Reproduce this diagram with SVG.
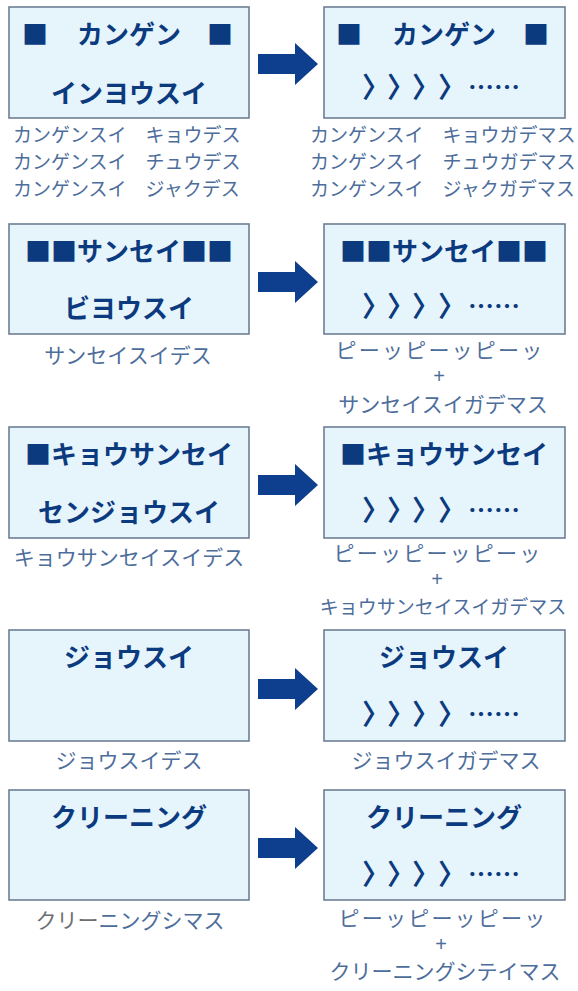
<svg xmlns="http://www.w3.org/2000/svg" width="578" height="991" viewBox="0 0 578 991">
<style>
.box{fill:#e6f4fc;stroke:#6d7f94;stroke-width:1.6}
.h{font-family:"Noto Sans CJK JP","Noto Sans CJK SC",sans-serif;font-weight:700;font-size:26px;fill:#0c3a7e;text-anchor:middle}
.hs{font-family:"Noto Sans CJK JP","Noto Sans CJK SC",sans-serif;font-weight:700;font-size:26px;fill:#0c3a7e}
.ch{font-family:"Noto Sans CJK JP","Noto Sans CJK SC",sans-serif;font-weight:700;font-size:28px;fill:#0c3a7e}
.c{font-family:"Noto Sans CJK JP","Noto Sans CJK SC",sans-serif;font-weight:400;font-size:21px;fill:#4d6d9b;text-anchor:middle}
.c1{font-family:"Noto Sans CJK JP","Noto Sans CJK SC",sans-serif;font-weight:400;font-size:19px;fill:#4d6d9b}
.plus{font-family:"Liberation Sans",Arial,sans-serif;font-weight:400;font-size:20px;fill:#4d6d9b;text-anchor:middle}
.p{letter-spacing:2.2px}
.arr{fill:#0e3f8f}
</style>
<defs>
<g id="chev">
<text class="ch" x="0" y="0">〉</text>
<text class="ch" x="25" y="0">〉</text>
<text class="ch" x="50" y="0">〉</text>
<text class="ch" x="76" y="0">〉</text>
<text class="hs" x="106" y="-1">……</text>
</g>
</defs>
<rect width="578" height="991" fill="#ffffff"/>

<g id="connectors">
<polygon class="arr" points="258,54 295,54 295,43 318,64 295,85 295,74 258,74"/>
<polygon class="arr" points="258,272 295,272 295,261 318,282 295,303 295,292 258,292"/>
<polygon class="arr" points="258,475 295,475 295,464 318,485 295,506 295,495 258,495"/>
<polygon class="arr" points="258,679 295,679 295,668 318,689 295,710 295,699 258,699"/>
<polygon class="arr" points="258,838 295,838 295,827 318,848 295,869 295,858 258,858"/>
</g>

<g id="n1-left">
<rect class="box" x="9" y="7" width="240" height="111"/>
<text class="hs" x="22" y="44">■</text>
<text class="h" x="129" y="44">カンゲン</text>
<text class="hs" x="207" y="44">■</text>
<text class="h" x="129" y="103">インヨウスイ</text>
<text class="c1" x="13" y="142">カンゲンスイ　キョウデス</text>
<text class="c1" x="13" y="169">カンゲンスイ　チュウデス</text>
<text class="c1" x="13" y="196">カンゲンスイ　ジャクデス</text>
</g>

<g id="n1-right">
<rect class="box" x="324" y="7" width="241" height="111"/>
<text class="hs" x="336" y="44">■</text>
<text class="h" x="444" y="44">カンゲン</text>
<text class="hs" x="523" y="44">■</text>
<use href="#chev" x="362" y="98"/>
<text class="c1" x="310" y="142">カンゲンスイ　キョウガデマス</text>
<text class="c1" x="310" y="169">カンゲンスイ　チュウガデマス</text>
<text class="c1" x="310" y="196">カンゲンスイ　ジャクガデマス</text>
</g>

<g id="n2-left">
<rect class="box" x="9" y="224" width="240" height="110"/>
<text class="h" x="129" y="261">■■サンセイ■■</text>
<text class="h" x="129" y="318">ビヨウスイ</text>
<text class="c" x="128" y="363">サンセイスイデス</text>
</g>

<g id="n2-right">
<rect class="box" x="324" y="224" width="241" height="110"/>
<text class="h" x="444" y="261">■■サンセイ■■</text>
<use href="#chev" x="362" y="317"/>
<text class="c p" x="440" y="358">ピーッピーッピーッ</text>
<text class="plus" x="439" y="383">+</text>
<text class="c" x="443" y="412">サンセイスイガデマス</text>
</g>

<g id="n3-left">
<rect class="box" x="9" y="427" width="240" height="111"/>
<text class="h" x="129" y="464">■キョウサンセイ</text>
<text class="h" x="129" y="522">センジョウスイ</text>
<text class="c" x="129" y="565">キョウサンセイスイデス</text>
</g>

<g id="n3-right">
<rect class="box" x="324" y="427" width="241" height="111"/>
<text class="h" x="444" y="464">■キョウサンセイ</text>
<use href="#chev" x="362" y="521"/>
<text class="c p" x="438" y="561">ピーッピーッピーッ</text>
<text class="plus" x="437" y="586">+</text>
<text class="c" x="443" y="614" style="font-size:19px">キョウサンセイスイガデマス</text>
</g>

<g id="n4-left">
<rect class="box" x="9" y="630" width="240" height="111"/>
<text class="h" x="129" y="667">ジョウスイ</text>
<text class="c" x="129" y="768">ジョウスイデス</text>
</g>

<g id="n4-right">
<rect class="box" x="324" y="630" width="241" height="111"/>
<text class="h" x="444" y="667">ジョウスイ</text>
<use href="#chev" x="362" y="725"/>
<text class="c" x="446" y="768">ジョウスイガデマス</text>
</g>

<g id="n5-left">
<rect class="box" x="9" y="790" width="240" height="110"/>
<text class="h" x="129" y="827">クリーニング</text>
<text class="c" x="130" y="928"><tspan fill="#6e6e72">クリー</tspan>ニングシマス</text>
</g>

<g id="n5-right">
<rect class="box" x="324" y="790" width="241" height="110"/>
<text class="h" x="444" y="827">クリーニング</text>
<use href="#chev" x="362" y="885"/>
<text class="c p" x="443" y="926">ピーッピーッピーッ</text>
<text class="plus" x="441" y="951">+</text>
<text class="c" x="445" y="979">クリーニングシテイマス</text>
</g>
</svg>
